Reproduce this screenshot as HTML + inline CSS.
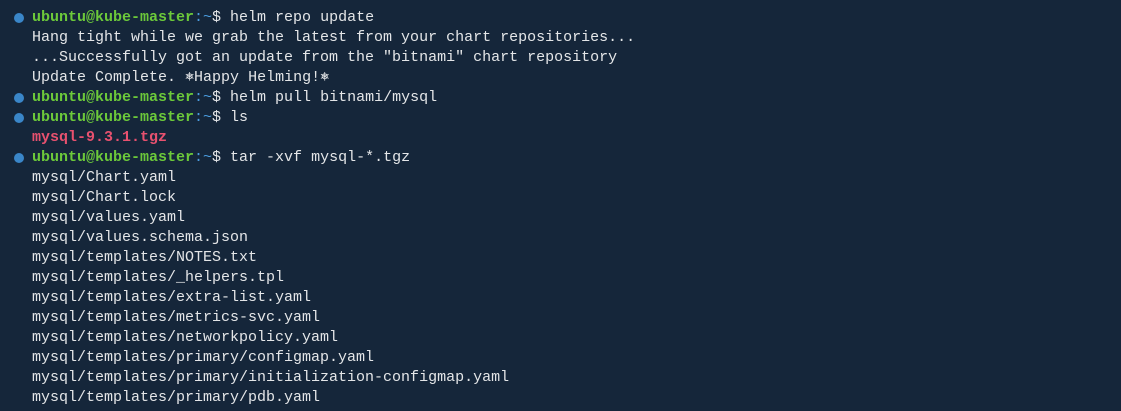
<!DOCTYPE html>
<html><head><style>
html,body{margin:0;padding:0;width:1121px;height:411px;overflow:hidden;background:#15263a;}
.t{position:absolute;left:32px;top:8px;font-family:"Liberation Mono",monospace;font-size:15px;line-height:20px;color:#e4e6e8;white-space:pre;}
.g{color:#6cc93a;font-weight:bold}
.b{color:#4a9de0}
.r{color:#e8516f;font-weight:bold}
.d{position:absolute;left:14px;width:10px;height:10px;border-radius:50%;background:#3a86c8;}
</style></head><body>
<div class="d" style="top:13px"></div>
<div class="d" style="top:93px"></div>
<div class="d" style="top:113px"></div>
<div class="d" style="top:153px"></div>
<div class="t"><span class="g">ubuntu@kube-master</span><span class="b">:~</span>$ helm repo update
Hang tight while we grab the latest from your chart repositories...
...Successfully got an update from the "bitnami" chart repository
Update Complete. ⎈Happy Helming!⎈
<span class="g">ubuntu@kube-master</span><span class="b">:~</span>$ helm pull bitnami/mysql
<span class="g">ubuntu@kube-master</span><span class="b">:~</span>$ ls
<span class="r">mysql-9.3.1.tgz</span>
<span class="g">ubuntu@kube-master</span><span class="b">:~</span>$ tar -xvf mysql-*.tgz
mysql/Chart.yaml
mysql/Chart.lock
mysql/values.yaml
mysql/values.schema.json
mysql/templates/NOTES.txt
mysql/templates/_helpers.tpl
mysql/templates/extra-list.yaml
mysql/templates/metrics-svc.yaml
mysql/templates/networkpolicy.yaml
mysql/templates/primary/configmap.yaml
mysql/templates/primary/initialization-configmap.yaml
mysql/templates/primary/pdb.yaml</div>
</body></html>
